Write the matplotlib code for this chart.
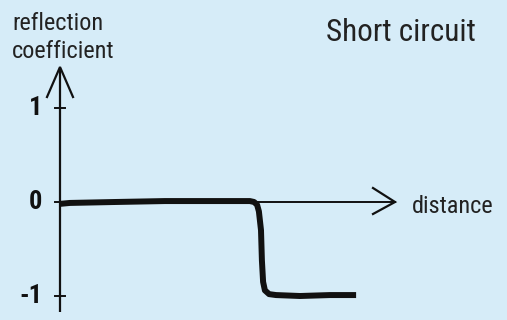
import matplotlib
matplotlib.use('Agg')
import matplotlib.pyplot as plt
from matplotlib import font_manager

# data (distance in arbitrary units, reflection coefficient)
distance = [0, 0.33, 1.83, 3.5, 5.83, 6.33, 6.47, 6.57, 6.63, 6.7, 6.73, 6.77, 6.83, 6.97, 7.2, 8.0, 9.0, 9.87]
refl = [-0.02, -0.01, 0.0, 0.01, 0.01, 0.01, 0.0, -0.03, -0.1, -0.3, -0.62, -0.85, -0.94, -0.98, -0.99, -1.0, -0.99, -0.99]
yticks = [1, 0, -1]
ytick_labels = ['1', '0', '-1']

names = {f.name for f in font_manager.fontManager.ttflist}
fam = 'DejaVu Sans'
for cand in ['Roboto Condensed', 'Liberation Sans Narrow', 'DejaVu Sans Condensed',
             'Noto Sans Condensed', 'Open Sans Condensed', 'Roboto']:
    if cand in names:
        fam = cand
        break

bg = '#d6ecf8'
ink = '#111111'
txt = '#222222'

fig = plt.figure(figsize=(5.07, 3.2), dpi=100, facecolor=bg)
ax = fig.add_axes([0, 0, 1, 1])
ax.set_facecolor(bg)
# pixel mapping: x = (px-60)/30, y = (202-py)/94
ax.set_xlim(-2.0, (507 - 60) / 30)
ax.set_ylim((202 - 320) / 94, 202 / 94)
ax.axis('off')

# y axis with arrow
ax.plot([0, 0], [(202 - 312) / 94, (202 - 68) / 94], color=ink, lw=1.6, solid_capstyle='butt')
ax.plot([-13 / 30, 0, 13 / 30], [(202 - 97) / 94, (202 - 67) / 94, (202 - 97) / 94],
        color=ink, lw=1.6, solid_joinstyle='miter')
# x axis with arrow
x_end = (395 - 60) / 30
ax.plot([0, x_end], [0, 0], color=ink, lw=1.4)
ax.plot([x_end - 22 / 30, x_end, x_end - 22 / 30], [14 / 94, 0, -12 / 94],
        color=ink, lw=1.6, solid_joinstyle='miter')

# tick marks
for t in yticks:
    ax.plot([-5 / 30, 5 / 30], [t, t], color=ink, lw=1.4)
for t, lab in zip(yticks, ytick_labels):
    ax.text(-0.6, t, lab, ha='right', va='center', fontsize=19, fontweight='bold',
            color=ink, family=fam)

# curve
ax.plot(distance, refl, color=ink, lw=4.3, solid_capstyle='butt', solid_joinstyle='round')

# labels
ax.text((12 - 60) / 30, (202 - 30) / 94, 'reflection', ha='left', va='baseline',
        fontsize=17.5, color=txt, family=fam)
ax.text((12 - 60) / 30, (202 - 58) / 94, 'coefficient', ha='left', va='baseline',
        fontsize=17.5, color=txt, family=fam)
ax.text((412 - 60) / 30, (202 - 213) / 94, 'distance', ha='left', va='baseline',
        fontsize=17.5, color=txt, family=fam)
ax.text((326 - 60) / 30, (202 - 41) / 94, 'Short circuit', ha='left', va='baseline',
        fontsize=22.5, color=txt, family=fam)

fig.savefig('out.png', dpi=100, facecolor=bg)
